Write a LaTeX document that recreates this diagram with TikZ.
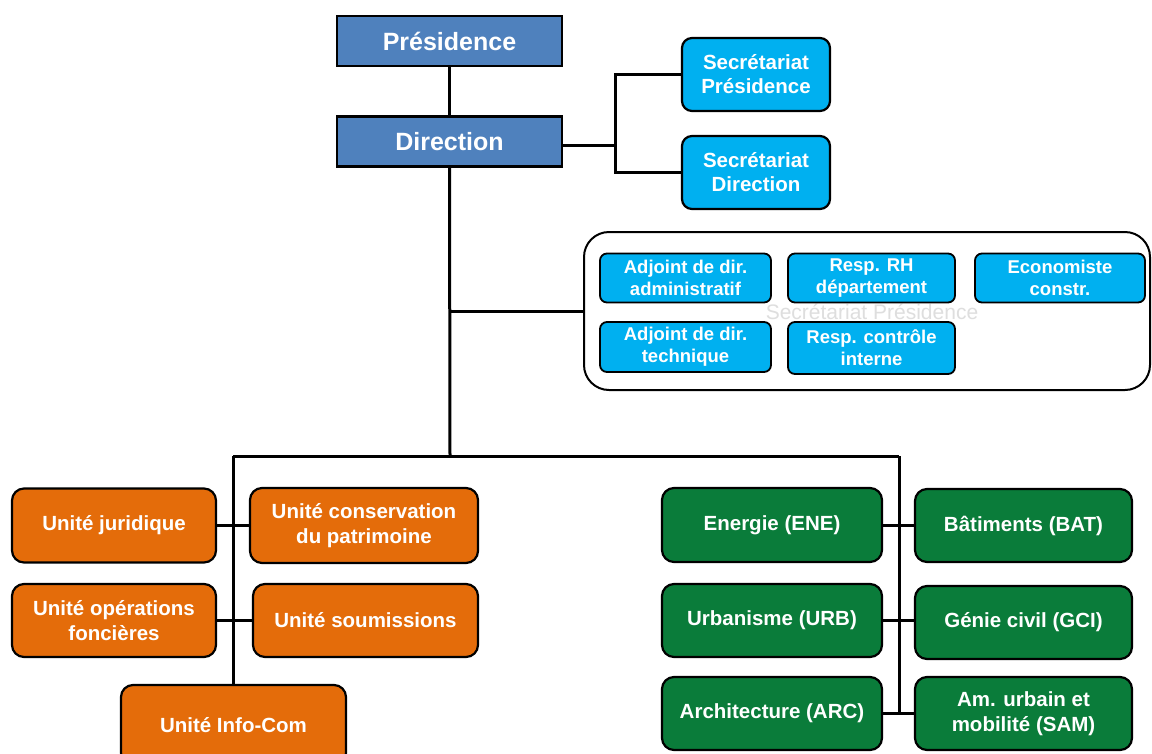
\documentclass[tikz,border=0pt]{standalone}
\usepackage{fontspec}
\setmainfont{Liberation Sans}
\definecolor{pblue}{HTML}{4F81BD}
\definecolor{scyan}{HTML}{00B0F0}
\definecolor{uorange}{HTML}{E46C0A}
\definecolor{dgreen}{HTML}{0A7C3A}
\begin{document}
\begin{tikzpicture}[x=1pt,y=-1pt,
  base/.style={draw=black, line width=2.2pt, text=white, font=\bfseries, align=center, inner sep=0pt, outer sep=0pt},
  topbox/.style={base, fill=pblue, minimum width=225pt, minimum height=50pt, font=\bfseries\fontsize{25}{28}\selectfont},
  secbox/.style={base, fill=scyan, rounded corners=10pt, minimum width=148pt, minimum height=73pt, font=\bfseries\fontsize{20.5}{24}\selectfont},
  innerbox/.style={base, fill=scyan, rounded corners=7pt, line width=1.8pt, minimum height=49pt, font=\bfseries\fontsize{18.5}{22}\selectfont},
  orbox/.style={base, fill=uorange, rounded corners=12pt, minimum height=74pt, font=\bfseries\fontsize{20.5}{25}\selectfont},
  grbox/.style={base, fill=dgreen, rounded corners=12pt, minimum height=74pt, font=\bfseries\fontsize{20.5}{25}\selectfont},
  conn/.style={draw=black, line width=3pt},
]
\useasboundingbox (0,0) rectangle (1152,753);
\fill[white] (0,0) rectangle (1152,753);

% top
\node[topbox] (pres) at (449.5,41) {Présidence};
\node[topbox] (dir) at (449.5,141.5) {Direction};
\node[secbox] (secP) at (756,74.5) {Secrétariat\\Présidence};
\node[secbox] (secD) at (756,172.5) {Secrétariat\\Direction};

% group
\node[draw=black, line width=2pt, rounded corners=25pt, fill=white, minimum width=566pt, minimum height=158pt, inner sep=0pt, outer sep=0pt] (grp) at (867,311) {};
\node[font=\fontsize{21}{24}\selectfont, text=black!13] (ghost) at (872,312) {Secrétariat Présidence};
\node[innerbox, minimum width=171pt] (adm) at (685.5,278) {Adjoint de dir.\\administratif};
\node[innerbox, minimum width=167pt] (rh) at (871.5,278) {Resp. RH\\département};
\node[innerbox, minimum width=170pt] (eco) at (1060,278) {Economiste\\constr.};
\node[innerbox, minimum width=171pt, minimum height=50pt] (tech) at (685.5,347) {Adjoint de dir.\\technique};
\node[innerbox, minimum width=167pt, minimum height=52pt] (ctrl) at (871.5,348) {Resp. contrôle\\interne};

% orange units
\node[orbox, minimum width=204pt] (jur) at (114,525.5) {Unité juridique};
\node[orbox, minimum width=228pt, minimum height=75pt] (cons) at (364,525.5) {Unité conservation\\du patrimoine};
\node[orbox, minimum width=204pt, minimum height=73pt] (ops) at (114,620.5) {Unité opérations\\foncières};
\node[orbox, minimum width=225pt, minimum height=73pt] (soum) at (365.5,620.5) {Unité soumissions};
\node[orbox, minimum width=225pt, minimum height=80pt] (info) at (233.5,725) {Unité Info-Com};

% green units
\node[grbox, minimum width=220pt] (ene) at (772,525) {Energie (ENE)};
\node[grbox, minimum width=217pt, minimum height=73pt] (bat) at (1023.5,525.5) {Bâtiments (BAT)};
\node[grbox, minimum width=220pt, minimum height=73pt] (urb) at (772,620.5) {Urbanisme (URB)};
\node[grbox, minimum width=217pt, minimum height=73pt] (gci) at (1023.5,622.5) {Génie civil (GCI)};
\node[grbox, minimum width=220pt, minimum height=73pt] (arc) at (772,713.5) {Architecture (ARC)};
\node[grbox, minimum width=217pt, minimum height=73pt] (sam) at (1023.5,713.5) {Am. urbain et\\mobilité (SAM)};

% connectors
\coordinate (jS) at (615,145);
\coordinate (bus) at (450,456);
\coordinate (busL) at (233,456);
\coordinate (busR) at (899,456);
\draw[conn] (pres.south) -- (dir.north);
\draw[conn] (dir.east |- jS) -- (jS);
\draw[conn] (secP.west) -| (jS) |- (secD.west);
\draw[conn] (dir.south) -- (bus);
\draw[conn] (dir.south |- grp.west) -- (grp.west);
\draw[conn] (busL) -- (busR);
\draw[conn] (busL) -- (busL |- info.north);
\draw[conn] (busR) -- (busR |- sam.west);
\draw[conn] (jur.east) -- (cons.west);
\draw[conn] (ops.east) -- (soum.west);
\draw[conn] (ene.east) -- (ene.east -| bat.west);
\draw[conn] (urb.east) -- (urb.east -| gci.west);
\draw[conn] (arc.east) -- (sam.west);
\end{tikzpicture}
\end{document}
